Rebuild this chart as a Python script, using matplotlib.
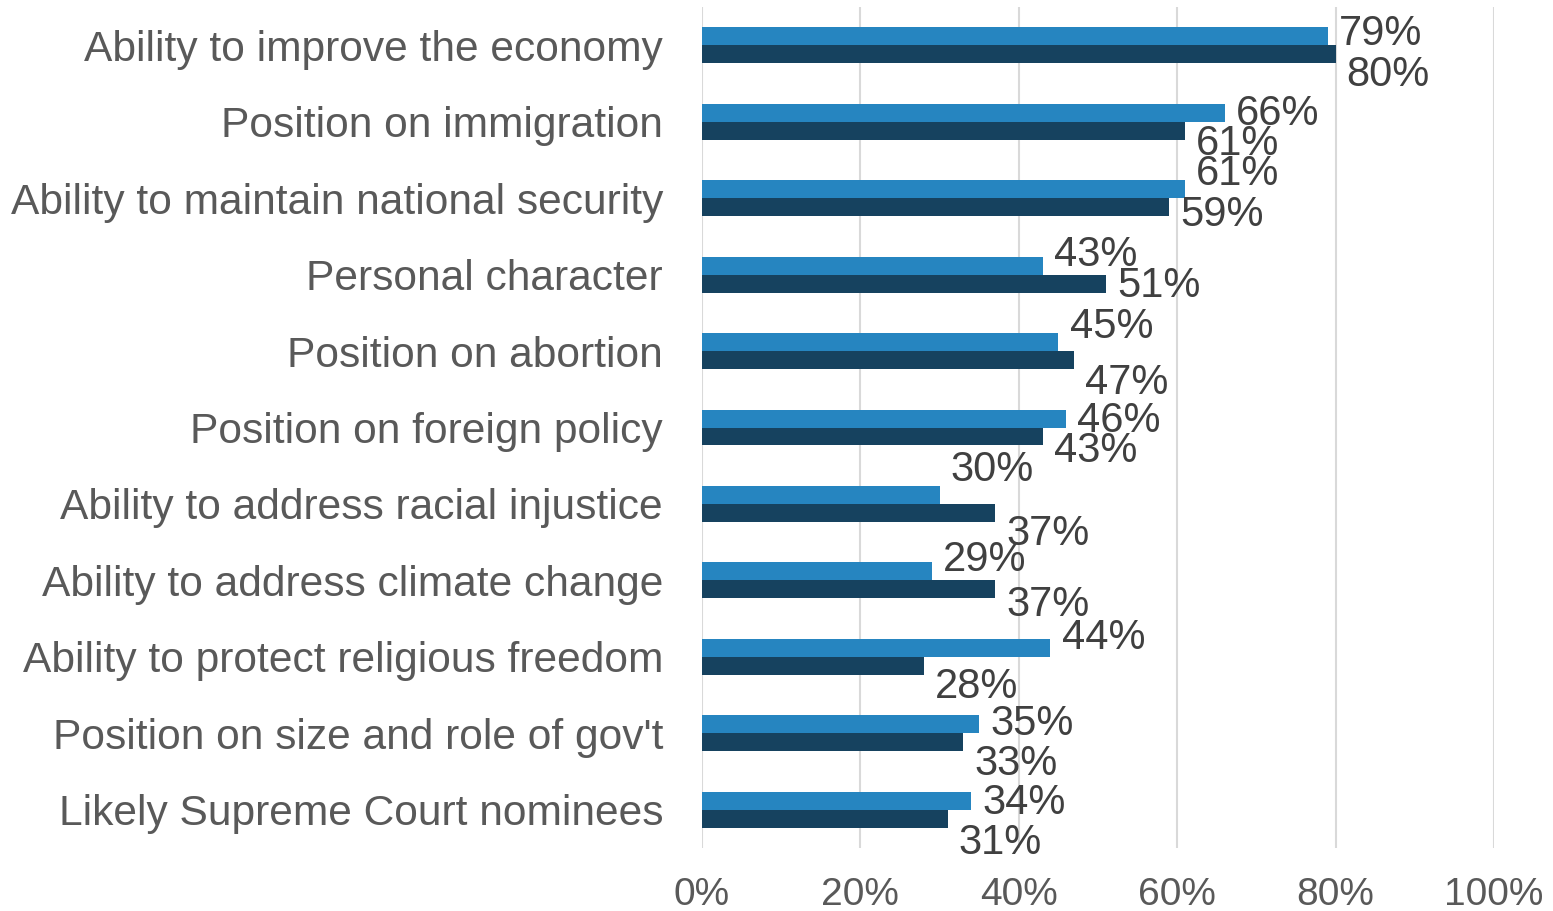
import matplotlib

matplotlib.use("Agg")
import matplotlib.pyplot as plt
from matplotlib import font_manager
import numpy as np

categories = [
    "Ability to improve the economy",
    "Position on immigration",
    "Ability to maintain national security",
    "Personal character",
    "Position on abortion",
    "Position on foreign policy",
    "Ability to address racial injustice",
    "Ability to address climate change",
    "Ability to protect religious freedom",
    "Position on size and role of gov't",
    "Likely Supreme Court nominees",
]
light_values = [79, 66, 61, 43, 45, 46, 30, 29, 44, 35, 34]
dark_values = [80, 61, 59, 51, 47, 43, 37, 37, 28, 33, 31]
x_ticks = [0, 20, 40, 60, 80, 100]

# label nudges in pixels (down is positive), like the hand-dragged excel labels
light_dy = [-2, 1, -15, -11, -15, 2, -25, -11, -10, 0, 2]
dark_dy = [21, 13, 8, 2, 23, 15, 21, 16, 21, 22, 24]

LIGHT = "#2685c0"
DARK = "#16425f"

installed = {f.name for f in font_manager.fontManager.ttflist}
narrow = "Liberation Sans Narrow" if "Liberation Sans Narrow" in installed else "Liberation Sans"

fig = plt.figure(figsize=(15.53, 9.11), dpi=100)
ax = fig.add_axes([702 / 1553, 1 - 848 / 911, 792 / 1553, 841 / 911])

y = np.arange(len(categories))
h = 0.235
ax.barh(y - h / 2, light_values, height=h, color=LIGHT, zorder=3)
ax.barh(y + h / 2, dark_values, height=h, color=DARK, zorder=3)

for i in range(len(categories)):
    ax.annotate(f"{light_values[i]}%", (light_values[i], y[i] - h / 2),
                xytext=(8, -light_dy[i] * 0.72), textcoords="offset points",
                ha="left", va="center", fontsize=30, color="#404040",
                family=narrow, zorder=4)
    ax.annotate(f"{dark_values[i]}%", (dark_values[i], y[i] + h / 2),
                xytext=(8, -dark_dy[i] * 0.72), textcoords="offset points",
                ha="left", va="center", fontsize=30, color="#404040",
                family=narrow, zorder=4)

ax.set_xlim(0, 100)
ax.set_ylim(len(categories) - 0.5, -0.5)
ax.set_xticks(x_ticks)
ax.set_xticklabels([f"{t}%" for t in x_ticks], family=narrow, fontsize=28, color="#595959")
ax.set_yticks(y)
ax.set_yticklabels(categories, family="Liberation Sans", fontsize=30.6, color="#595959")
ax.tick_params(axis="x", length=0, pad=21)
ax.tick_params(axis="y", length=0, pad=28)
ax.grid(axis="x", color="#d9d9d9", linewidth=1.5, zorder=0)
for s in ax.spines.values():
    s.set_visible(False)
ax.set_axisbelow(True)

fig.savefig("out.png", dpi=100)
